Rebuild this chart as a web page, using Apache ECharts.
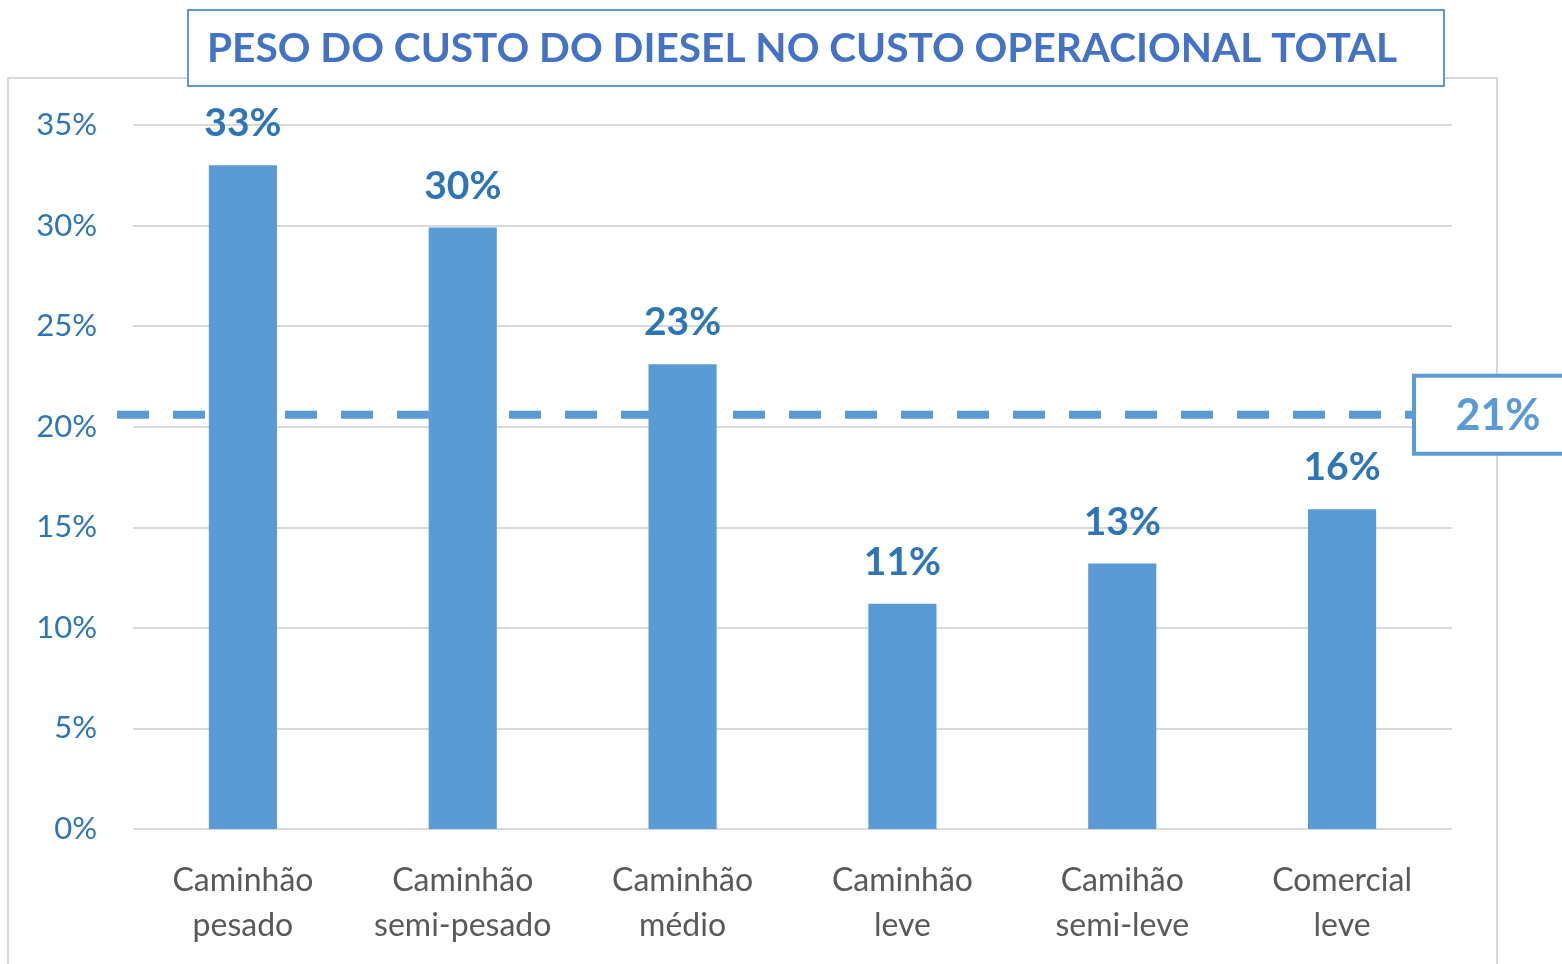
<!DOCTYPE html>
<html>
<head>
<meta charset="utf-8">
<script src="https://cdn.jsdelivr.net/npm/echarts@6/dist/echarts.min.js"></script>
<style>
  html, body { margin: 0; padding: 0; background: #fff; }
  #chart { width: 1562px; height: 964px; }
</style>
</head>
<body>
<div id="chart"></div>
<script>
// Diesel share of total operating cost, by vehicle class
const chartTitle = 'PESO DO CUSTO DO DIESEL NO CUSTO OPERACIONAL TOTAL';
const categories = [
  'Caminhão\npesado',
  'Caminhão\nsemi-pesado',
  'Caminhão\nmédio',
  'Caminhão\nleve',
  'Camihão\nsemi-leve',
  'Comercial\nleve'
];
const shareValues = [33.0, 29.9, 23.1, 11.2, 13.2, 15.9];
const averageValue = [20.6];
const yTicks = { min: 0, max: 35, step: 5 };

const BAR = '#5B9BD5';
const LABEL_BLUE = '#2E75B6';
const GRID_GRAY = '#D9D9D9';
const FONT = 'Lato, "Open Sans", sans-serif';

const chart = echarts.init(document.getElementById('chart'), null, { renderer: 'canvas' });

const pct = v => Math.round(v) + '%';

chart.setOption({
  animation: false,
  backgroundColor: '#fff',
  grid: { left: 133, right: 110, top: 125, bottom: 135, containLabel: false },
  xAxis: {
    type: 'category',
    data: categories,
    axisLine: { show: false },
    axisTick: { show: false },
    axisLabel: {
      color: '#595959',
      fontFamily: FONT,
      fontSize: 32,
      lineHeight: 45,
      margin: 29,
      interval: 0
    }
  },
  yAxis: {
    type: 'value',
    min: yTicks.min,
    max: yTicks.max,
    interval: yTicks.step,
    axisLine: { show: false },
    axisTick: { show: false },
    splitLine: { lineStyle: { color: GRID_GRAY, width: 2 } },
    axisLabel: {
      color: LABEL_BLUE,
      fontFamily: FONT,
      fontSize: 31,
      margin: 36,
      formatter: v => v + '%'
    }
  },
  graphic: [
    {
      type: 'rect',
      z: -10,
      silent: true,
      shape: { x: 8, y: 78, width: 1489, height: 900 },
      style: { fill: 'none', stroke: GRID_GRAY, lineWidth: 2 }
    },
    {
      type: 'group',
      z: 100,
      children: [
        {
          type: 'rect',
          shape: { x: 188, y: 10, width: 1256, height: 76 },
          style: { fill: '#fff', stroke: BAR, lineWidth: 2 }
        },
        {
          type: 'text',
          x: 207,
          y: 49,
          style: {
            text: chartTitle,
            fill: '#4472C4',
            font: 'bold 40.6px ' + FONT,
            textVerticalAlign: 'middle'
          }
        }
      ]
    }
  ],
  series: [
    {
      // dashed average line, drawn beneath the bars
      type: 'custom',
      z: 1,
      silent: true,
      data: averageValue,
      renderItem: function (params, api) {
        const cs = params.coordSys;
        const y = api.coord([0, api.value(0)])[1];
        return {
          type: 'line',
          shape: { x1: cs.x - 16, y1: y, x2: cs.x + cs.width - 37, y2: y },
          style: { stroke: BAR, lineWidth: 8, lineDash: [32, 24] }
        };
      },
      encode: { y: 0 }
    },
    {
      type: 'bar',
      z: 2,
      data: shareValues,
      barWidth: '31%',
      itemStyle: { color: BAR },
      label: {
        show: true,
        position: 'top',
        distance: 22,
        color: LABEL_BLUE,
        fontFamily: FONT,
        fontWeight: 'bold',
        fontSize: 39,
        formatter: p => pct(p.value)
      }
    },
    {
      // boxed label for the average line
      type: 'custom',
      z: 3,
      silent: true,
      data: averageValue,
      renderItem: function (params, api) {
        const cs = params.coordSys;
        const y = api.coord([0, api.value(0)])[1];
        const x0 = cs.x + cs.width - 38;
        return {
          type: 'group',
          children: [
            {
              type: 'rect',
              shape: { x: x0, y: y - 39, width: 170, height: 78 },
              style: { fill: '#fff', stroke: BAR, lineWidth: 4 }
            },
            {
              type: 'text',
              x: x0 + 84,
              y: y + 1,
              style: {
                text: pct(api.value(0)),
                fill: BAR,
                font: 'bold 43px ' + FONT,
                textAlign: 'center',
                textVerticalAlign: 'middle'
              }
            }
          ]
        };
      },
      encode: { y: 0 }
    }
  ]
});
</script>
</body>
</html>
